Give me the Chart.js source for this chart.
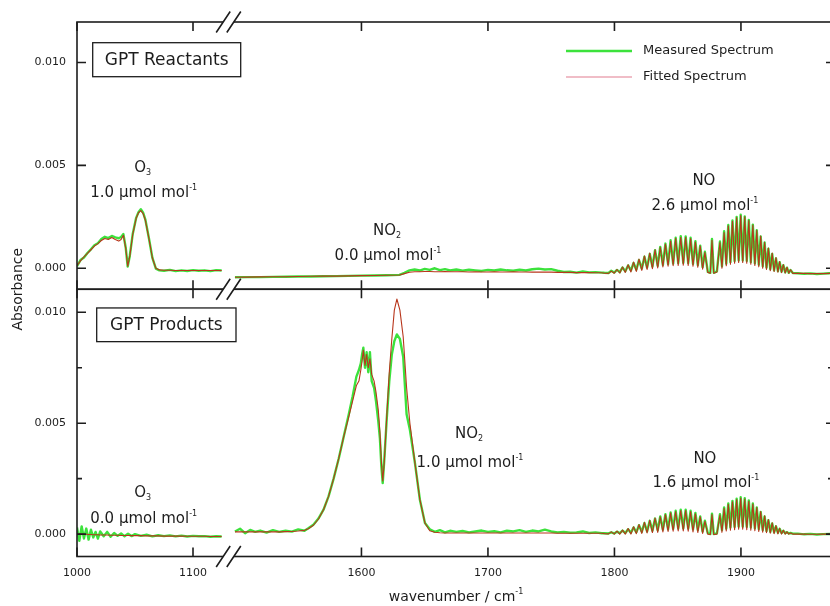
<!DOCTYPE html>
<html lang="en">
<head>
  <meta charset="UTF-8" />
  <title>GPT FTIR spectra</title>
  <script src="https://cdn.jsdelivr.net/npm/chart.js@4.4.0/dist/chart.umd.min.js"></script>
  <style>
    html, body { margin: 0; padding: 0; background: #fff; overflow: hidden; }
    canvas { display: block; }
  </style>
</head>
<body>
  <canvas id="spectra" width="830" height="606"></canvas>

  <script>
    // ---- data (wavenumber in cm-1, absorbance) ----
    const seriesNames = ['Measured Spectrum', 'Fitted Spectrum'];

    const xTicksLeft = [1000, 1100];
    const xTicksRight = [1600, 1700, 1800, 1900];
    const yTicks = [0, 0.005, 0.010];
    const yMinorTicks = [0.0025, 0.0075];

    // GPT reactants, left segment (O3 band)
    const reactLeftWn = [1000, 1003, 1006, 1009, 1012, 1015, 1018, 1021, 1024, 1027,
      1030, 1033, 1036, 1038, 1040, 1042, 1043.7, 1045.5, 1048, 1051,
      1053, 1055, 1057, 1059, 1062, 1065, 1068, 1071, 1075, 1080,
      1085, 1090, 1095, 1100, 1105, 1110, 1115, 1120, 1124.7];
    const reactLeftMeas = [0.0001, 0.0004, 0.00052, 0.00074, 0.00092, 0.00112, 0.00122, 0.00142, 0.00153, 0.00147,
      0.00157, 0.0015, 0.00146, 0.00152, 0.00166, 0.001, 0.00008, 0.0006, 0.00165, 0.00245,
      0.00272, 0.00287, 0.0027, 0.00235, 0.00146, 0.0005, -0.00002, -0.0001, -0.00012, -0.00008,
      -0.00014, -0.0001, -0.00013, -0.00009, -0.00012, -0.0001, -0.00014, -0.00009, -0.00011];
    const reactLeftFit = [0.00012, 0.00036, 0.00055, 0.00072, 0.0009, 0.00108, 0.0012, 0.00135, 0.00145, 0.0014,
      0.0015, 0.0014, 0.00132, 0.0014, 0.0016, 0.00098, 0.0001, 0.00058, 0.00163, 0.00243,
      0.0027, 0.0028, 0.00266, 0.00232, 0.00145, 0.0005, 0.0, -0.00008, -0.0001, -0.0001,
      -0.00011, -0.00011, -0.00011, -0.00011, -0.00011, -0.00011, -0.00011, -0.00011, -0.00011];

    // GPT reactants, right segment up to the NO band
    const reactRightWn = [1500, 1510, 1520, 1530, 1540, 1550, 1560, 1570, 1580, 1590, 1600, 1610, 1620, 1630,
      1634, 1638, 1642, 1646, 1650, 1654, 1658, 1662, 1666, 1670,
      1675, 1680, 1685, 1690, 1695, 1700, 1705, 1710, 1715, 1720, 1725, 1730,
      1735, 1740, 1745, 1750, 1755, 1760, 1765, 1770, 1775, 1780, 1785, 1790];
    const reactRightMeas = [-0.00044, -0.00043, -0.00043, -0.00042, -0.00041, -0.0004, -0.0004, -0.00039, -0.00038, -0.00037, -0.00036, -0.00035, -0.00034, -0.00032,
      -0.00022, -0.0001, -0.00006, -0.00011, -0.00003, -0.00008, 0.0, -0.00009, -0.00004, -0.0001,
      -0.00006, -0.00012, -0.00007, -0.0001, -0.00013, -0.00008, -0.00011, -0.00006, -0.0001, -0.00012, -0.00007, -0.00011,
      -0.00005, -0.00002, -0.00006, -0.00004, -0.00012, -0.00018, -0.00017, -0.00021, -0.00016, -0.0002, -0.00019, -0.00021];
    const reactRightFit = [-0.00044, -0.00043, -0.00042, -0.00041, -0.00041, -0.0004, -0.00039, -0.00038, -0.00038, -0.00037, -0.00036, -0.00035, -0.00034, -0.00033,
      -0.00026, -0.00019, -0.00017, -0.00017, -0.00016, -0.00016, -0.00017, -0.00017, -0.00016, -0.00017,
      -0.00017, -0.00017, -0.00018, -0.00017, -0.00018, -0.00018, -0.00017, -0.00018, -0.00018, -0.00017, -0.00018, -0.00018,
      -0.00019, -0.00018, -0.00019, -0.00019, -0.0002, -0.0002, -0.0002, -0.00021, -0.00021, -0.00021, -0.00022, -0.00022];

    // NO band: line peaks and the valleys between them
    const noWn = [1792, 1795.3, 1797.5, 1799.8, 1802.0, 1804.2, 1806.4, 1808.6, 1810.8, 1813.0,
      1815.1, 1817.3, 1819.4, 1821.6, 1823.7, 1825.8, 1827.9, 1830.0, 1832.1, 1834.2,
      1836.2, 1838.3, 1840.3, 1842.4, 1844.4, 1846.4, 1848.4, 1850.4, 1852.4, 1854.4,
      1856.3, 1858.3, 1860.2, 1862.1, 1864.0, 1865.9, 1867.8, 1869.7, 1871.5, 1873.8,
      1875.8, 1877.1, 1878.5, 1881.0, 1883.4, 1885.0, 1886.7, 1888.4, 1890.0, 1891.7,
      1893.3, 1895.0, 1896.6, 1898.2, 1899.8, 1901.4, 1903.0, 1904.6, 1906.2, 1907.8,
      1909.4, 1911.0, 1912.5, 1914.1, 1915.6, 1917.2, 1918.7, 1920.2, 1921.7, 1923.2,
      1924.7, 1926.2, 1927.7, 1929.2, 1930.6, 1932.1, 1933.5, 1935.0, 1936.4, 1937.8,
      1939.2, 1941.0];
    const reactNoMeas = [-0.00022, -0.00023, -0.00012, -0.00021, -0.00008, -0.00019, 0.00004, -0.00015, 0.00014, -0.00011,
      0.00026, -0.00007, 0.0004, -0.00002, 0.00056, 0.00003, 0.0007, 0.00008, 0.00088, 0.00012,
      0.00104, 0.00016, 0.0012, 0.0002, 0.00136, 0.00023, 0.00148, 0.00025, 0.00156, 0.00026,
      0.00155, 0.00025, 0.00148, 0.00021, 0.00132, 0.00015, 0.0011, 0.00006, 0.0008, -0.00018,
      -0.00022, 0.00142, -0.00022, -0.00015, 0.0013, 0.0001, 0.0018, 0.00022, 0.0021, 0.0003,
      0.00232, 0.00035, 0.0025, 0.00038, 0.0026, 0.00038, 0.00252, 0.00035, 0.00235, 0.0003,
      0.00212, 0.00024, 0.00185, 0.00017, 0.00155, 0.0001, 0.00125, 0.00003, 0.00095, -0.00004,
      0.0007, -0.0001, 0.00048, -0.00014, 0.0003, -0.00017, 0.00015, -0.0002, 0.00003, -0.00022,
      -0.00008, -0.00023];
    const reactNoFit = [-0.00024, -0.00025, -0.00014, -0.00024, -0.00006, -0.00023, 0.00006, -0.0002, 0.00017, -0.00018,
      0.0003, -0.00015, 0.00045, -0.0001, 0.0006, -0.00006, 0.00074, -0.00002, 0.0009, 0.00002,
      0.00102, 0.00006, 0.00118, 0.0001, 0.00132, 0.00012, 0.00146, 0.00014, 0.0015, 0.00015,
      0.0015, 0.00014, 0.00144, 0.0001, 0.00128, 0.00005, 0.00108, -0.00004, 0.00078, -0.0002,
      -0.00024, 0.00136, -0.00024, -0.00018, 0.00125, 0.0, 0.00174, 0.00012, 0.00206, 0.0002,
      0.00228, 0.00025, 0.00246, 0.00028, 0.00256, 0.00028, 0.0025, 0.00025, 0.00232, 0.0002,
      0.0021, 0.00014, 0.00184, 0.00007, 0.00156, 0.0, 0.00126, -0.00006, 0.00098, -0.00012,
      0.00074, -0.00016, 0.00052, -0.00019, 0.00033, -0.00021, 0.00018, -0.00023, 0.00005, -0.00024,
      -0.00007, -0.00025];
    const prodNoMeas = [0.00004, 0.00003, 0.00008, 0.00003, 0.00011, 0.00004, 0.00016, 0.00005, 0.00022, 0.00006,
      0.0003, 0.00008, 0.0004, 0.0001, 0.0005, 0.00012, 0.0006, 0.00015, 0.0007, 0.00017,
      0.0008, 0.0002, 0.0009, 0.00022, 0.00098, 0.00024, 0.00105, 0.00025, 0.0011, 0.00026,
      0.0011, 0.00025, 0.00105, 0.00022, 0.00095, 0.00018, 0.0008, 0.00012, 0.0006, 0.00004,
      0.0, 0.00092, 0.0, 0.00003, 0.0009, 0.00018, 0.0012, 0.00025, 0.00138, 0.0003,
      0.0015, 0.00032, 0.0016, 0.00034, 0.00166, 0.00034, 0.00162, 0.00032, 0.00152, 0.0003,
      0.00138, 0.00026, 0.0012, 0.00022, 0.001, 0.00018, 0.0008, 0.00014, 0.00063, 0.0001,
      0.00048, 0.00008, 0.00035, 0.00006, 0.00024, 0.00005, 0.00015, 0.00004, 0.00009, 0.00003,
      0.00005, 0.00002];
    const prodNoFit = [0.00002, 0.00001, 0.0001, 0.0, 0.00013, 0.0, 0.00018, 0.0, 0.00025, 0.0,
      0.00033, 0.00002, 0.00043, 0.00003, 0.00053, 0.00005, 0.00062, 0.00007, 0.00072, 0.00008,
      0.00078, 0.0001, 0.00088, 0.00012, 0.00096, 0.00013, 0.00102, 0.00014, 0.00106, 0.00014,
      0.00106, 0.00013, 0.00102, 0.0001, 0.00092, 0.00007, 0.00078, 0.00003, 0.00058, 0.0,
      -0.00002, 0.00088, -0.00002, 0.0, 0.00086, 0.00008, 0.00116, 0.00014, 0.00134, 0.00018,
      0.00146, 0.0002, 0.00156, 0.00022, 0.00162, 0.00022, 0.00158, 0.0002, 0.00148, 0.00018,
      0.00136, 0.00015, 0.0012, 0.00012, 0.00102, 0.00009, 0.00083, 0.00006, 0.00066, 0.00004,
      0.00051, 0.00002, 0.00038, 0.00001, 0.00026, 0.0, 0.00017, 0.0, 0.0001, 0.0,
      0.00005, 0.0];

    // after the NO band
    const tailWn = [1945, 1950, 1955, 1960, 1965, 1970, 1974];
    const reactTailMeas = [-0.00024, -0.00027, -0.00025, -0.00028, -0.00026, -0.00024, -0.00022];
    const reactTailFit = [-0.00024, -0.00025, -0.00026, -0.00026, -0.00026, -0.00025, -0.00024];
    const prodTailMeas = [0.00002, -0.00001, 0.00001, -0.00002, 0.0, 0.00001, -0.00001];
    const prodTailFit = [0.0, 0.0, -0.00001, -0.00001, 0.0, 0.0, 0.0];

    // GPT products, left segment
    const prodLeftWn = [1000, 1002, 1004, 1006, 1008, 1010, 1012, 1014, 1016, 1018,
      1020, 1023, 1026, 1029, 1032, 1035, 1038, 1041, 1044, 1047,
      1050, 1055, 1060, 1065, 1070, 1075, 1080, 1085, 1090, 1095,
      1100, 1105, 1110, 1115, 1120, 1124.7];
    const prodLeftMeas = [0.0003, -0.0003, 0.00035, -0.0002, 0.00025, -0.00025, 0.0002, -0.00015, 0.0001, -0.0002,
      0.00012, -0.0001, 0.0001, -0.00012, 0.00005, -0.00008, 0.00003, -0.0001, 0.00002, -0.00009,
      0.0, -0.00008, -0.00003, -0.0001, -0.00005, -0.00009, -0.00006, -0.0001, -0.00007, -0.00011,
      -0.00008, -0.0001, -0.00009, -0.00012, -0.0001, -0.00011];
    const prodLeftFit = [0.00001, 0.0, 0.0, -0.00001, -0.00001, -0.00002, -0.00002, -0.00003, -0.00003, -0.00003,
      -0.00004, -0.00004, -0.00004, -0.00005, -0.00005, -0.00005, -0.00006, -0.00006, -0.00006, -0.00007,
      -0.00007, -0.00007, -0.00008, -0.00008, -0.00008, -0.00009, -0.00009, -0.00009, -0.00009, -0.0001,
      -0.0001, -0.0001, -0.0001, -0.00011, -0.00011, -0.00011];

    // GPT products, right segment up to the NO band (NO2 band)
    const prodRightWn = [1500, 1504, 1508, 1512, 1516, 1520,
      1525, 1530, 1535, 1540, 1545, 1550, 1555,
      1558, 1562, 1566, 1570, 1574, 1578, 1582, 1586, 1590,
      1593, 1596, 1598, 1599.5, 1600.5, 1601.5, 1602.8, 1604.1, 1605.4, 1606.7,
      1608.1, 1610, 1611.5, 1613.3, 1614.6, 1615.7, 1616.8, 1618, 1620, 1622,
      1624, 1626, 1628, 1630.4, 1633, 1635.7, 1638.3, 1642.3, 1646.2, 1650.2,
      1654, 1658, 1662, 1666, 1670,
      1675, 1680, 1685, 1690, 1695, 1700, 1705, 1710, 1715, 1720, 1725, 1730,
      1735, 1740, 1745, 1750, 1755, 1760, 1765, 1770, 1775, 1780, 1785, 1790];
    const prodRightMeas = [0.00012, 0.00024, 0.00004, 0.00019, 0.0001, 0.00016,
      0.00007, 0.00018, 0.0001, 0.00015, 0.00011, 0.00021, 0.00015,
      0.00026, 0.00042, 0.0007, 0.0011, 0.0017, 0.0025, 0.0034, 0.0044, 0.0054,
      0.0062, 0.0071, 0.0074, 0.0077, 0.0081, 0.0084, 0.0075, 0.0082, 0.0073, 0.0082,
      0.0069, 0.0066, 0.006, 0.0051, 0.0043, 0.0031, 0.0023, 0.0033, 0.0052, 0.0069,
      0.0081, 0.0087, 0.009, 0.0088, 0.008, 0.0054, 0.0047, 0.0032, 0.00155, 0.0005,
      0.00022, 0.0001, 0.00018, 0.00008, 0.00015,
      0.0001, 0.00014, 0.00008, 0.00012, 0.00016, 0.0001, 0.00013, 0.00008, 0.00015, 0.00012, 0.00018, 0.0001,
      0.00016, 0.00012, 0.0002, 0.00012, 0.00008, 0.0001, 0.00006, 0.00008, 0.00012, 0.00005, 0.00008, 0.00004];
    const prodRightFit = [0.0001, 0.0001, 0.0001, 0.0001, 0.0001, 0.0001,
      0.0001, 0.0001, 0.0001, 0.00011, 0.00012, 0.00014, 0.00017,
      0.00024, 0.0004, 0.00068, 0.0011, 0.0017, 0.0025, 0.0034, 0.0044, 0.0053,
      0.006, 0.0067, 0.0069, 0.0074, 0.0078, 0.0083, 0.0076, 0.0081, 0.0075, 0.0079,
      0.0072, 0.0069, 0.0064, 0.0056, 0.0046, 0.0033, 0.0024, 0.0032, 0.0053, 0.0073,
      0.0088, 0.0101, 0.0106, 0.0101, 0.0089, 0.0066, 0.005, 0.0032, 0.00155, 0.0005,
      0.00015, 0.00008, 0.00006, 0.00005, 0.00005,
      0.00005, 0.00005, 0.00005, 0.00005, 0.00005, 0.00005, 0.00005, 0.00005, 0.00005, 0.00005, 0.00005, 0.00005,
      0.00005, 0.00005, 0.00005, 0.00005, 0.00004, 0.00004, 0.00004, 0.00004, 0.00004, 0.00004, 0.00004, 0.00004];

    // panel labels and band annotations
    const panelNames = ['GPT Reactants', 'GPT Products'];
    const annSpecies = ['O3', 'NO2', 'NO', 'O3', 'NO2', 'NO'];
    const annConc = ['1.0', '0.0', '2.6', '0.0', '1.0', '1.6'];

    // ---- layout / style ----
    const ink = '#1d1d1d';
    const fam = '"DejaVu Sans", "Liberation Sans", Arial, sans-serif';
    const measColor = '#3ce23c';
    const fitColor = '#b8361c';
    const annSpots = [
      {x: 'xL', y: 'yT', wn: 1057.5, a: 0.00375, gap: 25},
      {x: 'xR', y: 'yT', wn: 1621, a: 0.00067, gap: 25},
      {x: 'xR', y: 'yT', wn: 1871.5, a: 0.00312, gap: 25},
      {x: 'xL', y: 'yB', wn: 1057.5, a: 0.00076, gap: 26},
      {x: 'xR', y: 'yB', wn: 1685.8, a: 0.00326, gap: 29},
      {x: 'xR', y: 'yB', wn: 1872.3, a: 0.00236, gap: 24}
    ];
    const rightOff = 5; // right frame edge lies just outside the picture

    function pts(xs, ys) {
      return xs.map((x, i) => ({ x: x, y: ys[i] }));
    }

    function richText(ctx, parts, cx, baseY) {
      let total = 0;
      parts.forEach(p => {
        ctx.font = p.size + 'px ' + fam;
        p.w = ctx.measureText(p.t).width;
        total += p.w;
      });
      let x = cx - total / 2;
      ctx.textAlign = 'left';
      ctx.textBaseline = 'alphabetic';
      parts.forEach(p => {
        ctx.font = p.size + 'px ' + fam;
        ctx.fillText(p.t, x, baseY + (p.dy || 0));
        x += p.w;
      });
    }

    function speciesParts(name) {
      const m = name.match(/^([A-Za-z]+)(\d*)$/);
      const parts = [{ t: m[1], size: 15 }];
      if (m[2]) parts.push({ t: m[2], size: 8, dy: 3 });
      return parts;
    }

    const framePlugin = {
      id: 'frame',
      afterDraw(chart) {
        const ctx = chart.ctx;
        const { xL, xR, yT, yB } = chart.scales;
        const left = xL.left, right = xR.right + rightOff, brk = xL.right;
        ctx.save();
        ctx.strokeStyle = ink;
        ctx.lineWidth = 1.6;
        ctx.strokeRect(left, yT.top, right - left, yT.bottom - yT.top);
        ctx.strokeRect(left, yB.top, right - left, yB.bottom - yB.top);

        // inward ticks
        const xs = xTicksLeft.map(v => xL.getPixelForValue(v))
          .concat(xTicksRight.map(v => xR.getPixelForValue(v)));
        ctx.beginPath();
        xs.forEach(px => {
          ctx.moveTo(px, yT.top); ctx.lineTo(px, yT.top + 9);
          ctx.moveTo(px, yT.bottom - 9); ctx.lineTo(px, yT.bottom + 9);
          ctx.moveTo(px, yB.bottom); ctx.lineTo(px, yB.bottom - 9);
        });
        [yT, yB].forEach(s => yTicks.forEach(v => {
          const py = s.getPixelForValue(v);
          ctx.moveTo(left, py); ctx.lineTo(left + 9, py);
          ctx.moveTo(right, py); ctx.lineTo(right - 9, py);
        }));
        yMinorTicks.forEach(v => {
          const py = yB.getPixelForValue(v);
          ctx.moveTo(left, py); ctx.lineTo(left + 5, py);
          ctx.moveTo(right, py); ctx.lineTo(right - 7, py);
        });
        ctx.stroke();

        // axis break marks
        [yT.top, yT.bottom, yB.bottom].forEach(by => {
          ctx.fillStyle = '#fff';
          ctx.beginPath();
          ctx.moveTo(brk - 7.3, by + 3);
          ctx.lineTo(brk - 3.3, by - 3);
          ctx.lineTo(brk + 7.3, by - 3);
          ctx.lineTo(brk + 3.3, by + 3);
          ctx.closePath();
          ctx.fill();
          ctx.beginPath();
          [-5.3, 5.3].forEach(off => {
            ctx.moveTo(brk + off - 7, by + 10.5);
            ctx.lineTo(brk + off + 7, by - 10.5);
          });
          ctx.stroke();
        });

        // panel name boxes
        ctx.fillStyle = ink;
        ctx.lineWidth = 1.3;
        const boxes = [
          { s: yT, dx: 15.7, dy: 20.7, w: 148, h: 34 },
          { s: yB, dx: 19.7, dy: 18.7, w: 139.3, h: 33.7 }
        ];
        boxes.forEach((b, i) => {
          const bx = left + b.dx, by = b.s.top + b.dy;
          ctx.strokeRect(bx, by, b.w, b.h);
          ctx.font = '17px ' + fam;
          ctx.textAlign = 'center';
          ctx.textBaseline = 'middle';
          ctx.fillText(panelNames[i], bx + b.w / 2, by + b.h / 2 + 1);
        });

        // band annotations
        annSpots.forEach((sp, i) => {
          const cx = chart.scales[sp.x].getPixelForValue(sp.wn);
          const cy = chart.scales[sp.y].getPixelForValue(sp.a);
          richText(ctx, [{ t: annConc[i] + ' \u00b5mol mol', size: 15 }, { t: '-1', size: 8, dy: -7 }], cx, cy + 5.5);
          richText(ctx, speciesParts(annSpecies[i]), cx - 1, cy - sp.gap + 5.5);
        });

        // legend
        const legend = [
          { color: measColor, width: 2.6, y: 51 },
          { color: '#e27c90', width: 1.1, y: 77 }
        ];
        legend.forEach((l, i) => {
          ctx.strokeStyle = l.color;
          ctx.lineWidth = l.width;
          ctx.beginPath();
          ctx.moveTo(566, l.y); ctx.lineTo(632, l.y);
          ctx.stroke();
          ctx.fillStyle = ink;
          ctx.font = '13px ' + fam;
          ctx.textAlign = 'left';
          ctx.textBaseline = 'middle';
          ctx.fillText(seriesNames[i], 643, l.y);
        });

        // axis titles
        ctx.save();
        ctx.translate(18, (yT.top + yB.bottom) / 2);
        ctx.rotate(-Math.PI / 2);
        ctx.font = '14px ' + fam;
        ctx.textAlign = 'center';
        ctx.textBaseline = 'middle';
        ctx.fillText('Absorbance', 0, 0);
        ctx.restore();
        richText(ctx, [{ t: 'wavenumber / cm', size: 14 }, { t: '-1', size: 8, dy: -7 }], (left + right) / 2, 601);

        ctx.restore();
      }
    };

    const lineBase = { pointRadius: 0, tension: 0, fill: false, borderJoinStyle: 'round' };
    const meas = Object.assign({ borderColor: measColor, borderWidth: 2.4, order: 2 }, lineBase);
    const fit = Object.assign({ borderColor: fitColor, borderWidth: 1.1, order: 1 }, lineBase);

    const datasets = [
      Object.assign({ label: seriesNames[0], xAxisID: 'xL', yAxisID: 'yT', data: pts(reactLeftWn, reactLeftMeas) }, meas),
      Object.assign({ label: seriesNames[0], xAxisID: 'xR', yAxisID: 'yT',
        data: pts(reactRightWn.concat(noWn, tailWn), reactRightMeas.concat(reactNoMeas, reactTailMeas)) }, meas),
      Object.assign({ label: seriesNames[0], xAxisID: 'xL', yAxisID: 'yB', data: pts(prodLeftWn, prodLeftMeas) }, meas),
      Object.assign({ label: seriesNames[0], xAxisID: 'xR', yAxisID: 'yB',
        data: pts(prodRightWn.concat(noWn, tailWn), prodRightMeas.concat(prodNoMeas, prodTailMeas)) }, meas),
      Object.assign({ label: seriesNames[1], xAxisID: 'xL', yAxisID: 'yT', data: pts(reactLeftWn, reactLeftFit) }, fit),
      Object.assign({ label: seriesNames[1], xAxisID: 'xR', yAxisID: 'yT',
        data: pts(reactRightWn.concat(noWn, tailWn), reactRightFit.concat(reactNoFit, reactTailFit)) }, fit),
      Object.assign({ label: seriesNames[1], xAxisID: 'xL', yAxisID: 'yB', data: pts(prodLeftWn, prodLeftFit) }, fit),
      Object.assign({ label: seriesNames[1], xAxisID: 'xR', yAxisID: 'yB',
        data: pts(prodRightWn.concat(noWn, tailWn), prodRightFit.concat(prodNoFit, prodTailFit)) }, fit)
    ];

    // stacked axes are fitted with provisional sizes, so drop the label overhang padding
    function noOverhang(s) {
      s.paddingLeft = 0; s.paddingRight = 0; s.paddingTop = 0; s.paddingBottom = 0;
    }

    const tickFont = { family: fam, size: 11 };
    function xScale(min, max, weight, stackWeight, ticks) {
      return {
        type: 'linear', position: 'bottom', stack: 'wn', stackWeight: stackWeight, weight: weight,
        min: min, max: max,
        grid: { display: false, drawTicks: false }, border: { display: false },
        afterBuildTicks: s => { s.ticks = ticks.map(v => ({ value: v })); },
        afterFit: s => { s.height = 49.5; noOverhang(s); },
        ticks: { padding: 10, font: tickFont, color: ink, autoSkip: false, maxRotation: 0, callback: v => String(v) }
      };
    }
    function yScale(min, max, weight) {
      return {
        type: 'linear', position: 'left', stack: 'abs', stackWeight: 1, weight: weight,
        min: min, max: max,
        grid: { display: false, drawTicks: false }, border: { display: false },
        afterBuildTicks: s => { s.ticks = yTicks.map(v => ({ value: v })); },
        afterFit: s => { s.width = 77; noOverhang(s); },
        ticks: { padding: 11, font: tickFont, color: ink, callback: v => v.toFixed(3) }
      };
    }

    new Chart(document.getElementById('spectra'), {
      type: 'line',
      data: { datasets: datasets },
      options: {
        responsive: false,
        animation: false,
        layout: { padding: { top: 22, right: 0, left: 0, bottom: 0 }, autoPadding: false },
        plugins: { legend: { display: false }, tooltip: { enabled: false } },
        scales: {
          xL: xScale(1000, 1130.6, 0, 151.5, xTicksLeft),
          xR: xScale(1494.9, 1970.4, 1, 601.5, xTicksRight),
          yT: yScale(-0.00102, 0.01197, 1),
          yB: yScale(-0.00101, 0.01104, 0)
        }
      },
      plugins: [framePlugin]
    });
  </script>
</body>
</html>
